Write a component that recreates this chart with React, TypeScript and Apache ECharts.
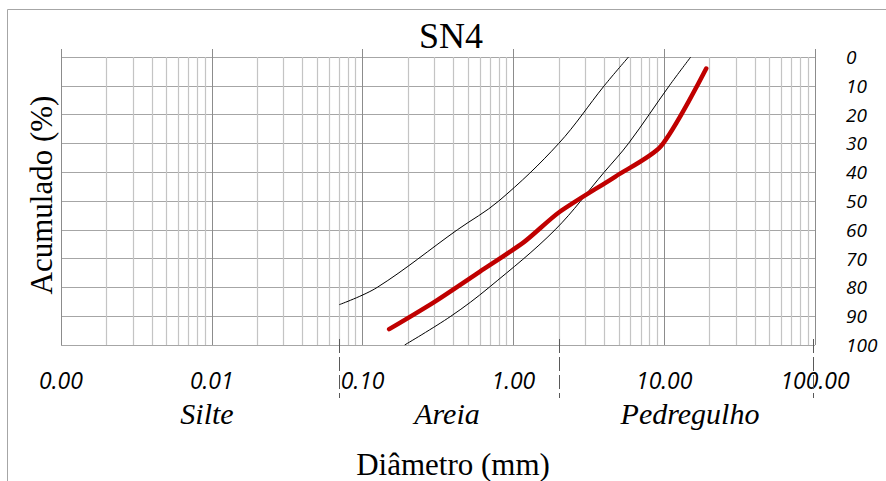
import React, { useEffect, useRef } from "react";
import * as echarts from "echarts";

// ---- data ----
const chartTitle = "SN4";
const xAxisTitle = "Diâmetro (mm)";
const yAxisTitle = "Acumulado (%)";
const soilClasses = ["Silte", "Areia", "Pedregulho"];

// sample curve (diameter mm, accumulated %)
const sampleDiam = [0.15, 0.3, 0.6, 1.18, 2.0, 4.75, 9.5, 19];
const sampleAcc = [94.5, 85, 74.5, 64.2, 54, 41.5, 31, 4];

// upper envelope
const upperDiam = [0.07, 0.125, 0.425, 0.8, 2.0, 4.0, 5.8];
const upperAcc = [86, 80, 60, 50, 30, 10, 0];

// lower envelope
const lowerDiam = [0.19, 0.385, 0.69, 1.89, 4.0, 5.8, 10.8, 15];
const lowerAcc = [100, 90, 80, 60, 40, 30, 10, 0];

// class boundaries (dashed)
const boundaryDiam = [0.00098, 0.07, 2.0, 97];

// log-grid minor lines
const decades = [0.001, 0.01, 0.1, 1, 10];
const multipliers = [2, 3, 4, 5, 6, 7, 8, 9];
const minorTicks: number[] = [];
decades.forEach((d) => multipliers.forEach((m) => minorTicks.push(Number((m * d).toPrecision(3)))));

const zip = (xs: number[], ys: number[]) => xs.map((x, i) => [x, ys[i]]);

const SERIF = "'Times New Roman', 'Liberation Serif', serif";
const SANS = "'Open Sans', sans-serif";

export default function App() {
  const ref = useRef<HTMLDivElement>(null);
  useEffect(() => {
    if (!ref.current) return;
    const chart = echarts.init(ref.current, undefined, { renderer: "svg" });
    const txt = (text: string, x: number, y: number, size: number, italic: boolean, rotation = 0) => ({
      type: "text",
      x,
      y,
      rotation,
      silent: true,
      style: {
        text,
        fontFamily: SERIF,
        fontSize: size,
        fontStyle: italic ? "italic" : "normal",
        fill: "#000",
        align: "center",
        verticalAlign: "middle",
      },
    });
    chart.setOption({
      animation: false,
      backgroundColor: "#fff",
      grid: [
        { left: 61, right: 71, top: 57, bottom: 136 },
        { left: 61, right: 71, top: 339, height: 59 },
      ],
      xAxis: [
        {
          type: "log",
          gridIndex: 0,
          logBase: 10,
          min: 0.001,
          max: 100,
          position: "bottom",
          axisLine: { show: false },
          axisTick: { show: false },
          axisLabel: {
            formatter: (v: number) => v.toFixed(2),
            fontFamily: SANS,
            fontStyle: "italic",
            fontSize: 23,
            color: "#000",
            margin: 23,
            showMinLabel: true,
            showMaxLabel: true,
          },
          splitLine: { show: true, lineStyle: { color: "#8c8c8c", width: 1 } },
        },
        {
          type: "log",
          gridIndex: 0,
          logBase: 10,
          min: 0.001,
          max: 100,
          position: "top",
          axisLine: { show: false },
          axisTick: { show: true, length: 8, lineStyle: { color: "#8c8c8c" } },
          axisLabel: { show: false },
          splitLine: { show: false },
        },
        { type: "log", gridIndex: 1, logBase: 10, min: 0.001, max: 100, show: false },
      ],
      yAxis: [
        {
          type: "value",
          gridIndex: 0,
          position: "right",
          inverse: true,
          min: 0,
          max: 100,
          interval: 10,
          axisLine: { show: false },
          axisTick: { show: false },
          axisLabel: {
            fontFamily: SANS,
            fontStyle: "italic",
            fontSize: 19,
            color: "#000",
            margin: 31,
            padding: [5, 0, 0, 0],
            showMinLabel: true,
            showMaxLabel: true,
          },
          splitLine: { show: true, lineStyle: { color: "#a6a6a6", width: 1 } },
        },
        { type: "value", gridIndex: 1, min: 0, max: 1, show: false },
      ],
      series: [
        {
          type: "lines",
          coordinateSystem: "cartesian2d",
          xAxisIndex: 0,
          yAxisIndex: 0,
          silent: true,
          z: 1,
          lineStyle: { color: "#c4c4c4", width: 1.2, opacity: 1 },
          data: minorTicks.map((v) => ({ coords: [[v, 0], [v, 100]] })),
        },
        {
          type: "lines",
          coordinateSystem: "cartesian2d",
          xAxisIndex: 2,
          yAxisIndex: 1,
          silent: true,
          lineStyle: { color: "#595959", width: 1, type: [14, 4], opacity: 1 },
          data: boundaryDiam.map((v) => ({ coords: [[v, 1], [v, 0]] })),
        },
        {
          name: "upper",
          type: "line",
          xAxisIndex: 0,
          yAxisIndex: 0,
          smooth: 0.35,
          symbol: "none",
          lineStyle: { color: "#000", width: 1 },
          data: zip(upperDiam, upperAcc),
          z: 3,
        },
        {
          name: "lower",
          type: "line",
          xAxisIndex: 0,
          yAxisIndex: 0,
          smooth: 0.35,
          symbol: "none",
          lineStyle: { color: "#000", width: 1 },
          data: zip(lowerDiam, lowerAcc),
          z: 3,
        },
        {
          name: chartTitle,
          type: "line",
          xAxisIndex: 0,
          yAxisIndex: 0,
          smooth: 0.25,
          symbol: "none",
          lineStyle: { color: "#c00000", width: 4.5, cap: "round", join: "round" },
          data: zip(sampleDiam, sampleAcc),
          z: 4,
        },
      ],
      graphic: [
        {
          type: "rect",
          silent: true,
          z: -10,
          shape: { x: 7.5, y: 9.5, width: 900, height: 500 },
          style: { fill: "none", stroke: "#a6a6a6", lineWidth: 1 },
        },
        txt(chartTitle, 451, 36, 36, false),
        txt(xAxisTitle, 453, 464, 31, false),
        txt(yAxisTitle, 41, 195, 31, false, Math.PI / 2),
        txt(soilClasses[0], 207, 413, 30, true),
        txt(soilClasses[1], 447, 413, 30, true),
        txt(soilClasses[2], 690, 413, 30, true),
      ],
    });
    return () => chart.dispose();
  }, []);
  return (
    <div
      ref={ref}
      style={{ position: "absolute", left: 0, top: 0, width: 886, height: 481 }}
    />
  );
}
